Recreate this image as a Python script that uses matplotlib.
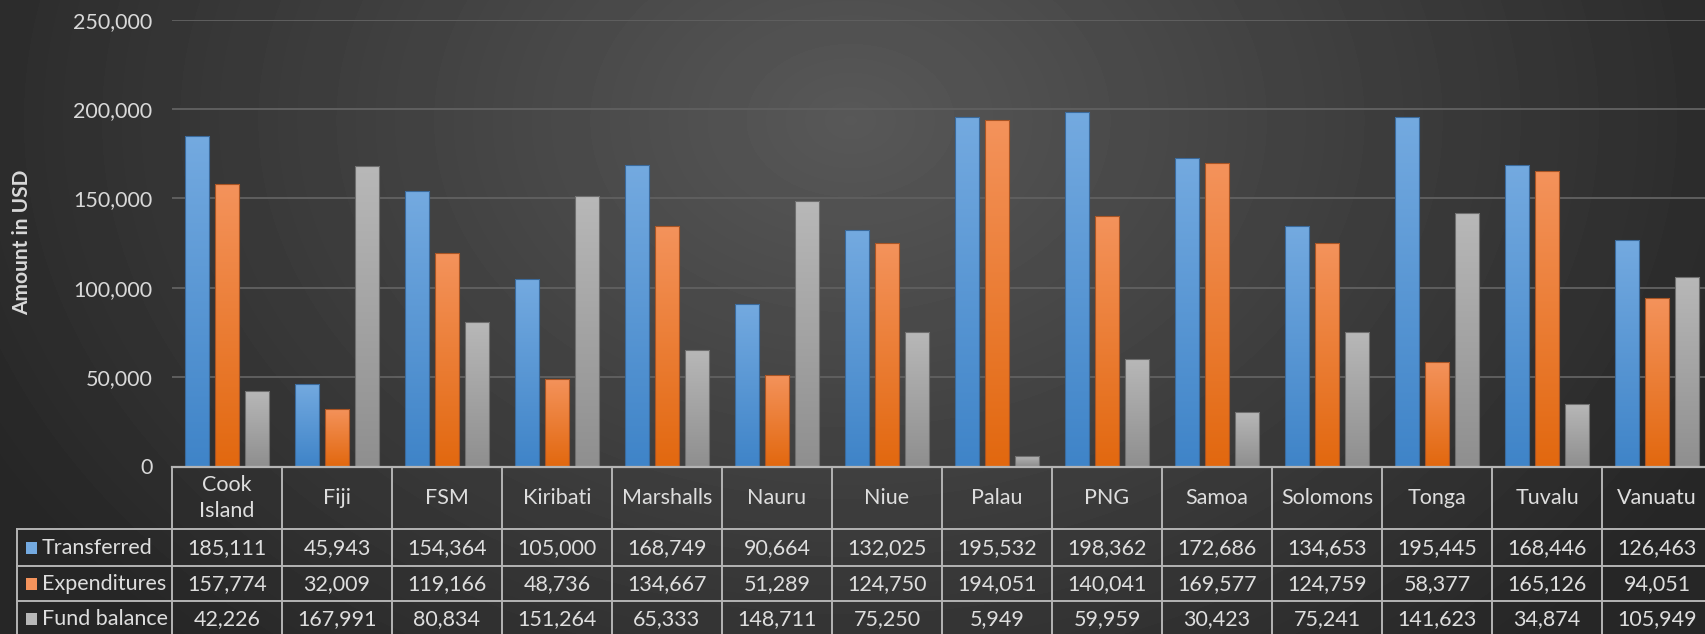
import matplotlib.pyplot as plt
import numpy as np
from matplotlib.colors import LinearSegmentedColormap
from matplotlib.patches import Rectangle
from matplotlib.transforms import blended_transform_factory

plt.rcParams['font.family'] = ['Lato', 'DejaVu Sans']

categories = ["Cook\nIsland", "Fiji", "FSM", "Kiribati", "Marshalls", "Nauru", "Niue",
              "Palau", "PNG", "Samoa", "Solomons", "Tonga", "Tuvalu", "Vanuatu"]
series_names = ["Transferred", "Expenditures", "Fund balance"]
transferred = [185111, 45943, 154364, 105000, 168749, 90664, 132025,
               195532, 198362, 172686, 134653, 195445, 168446, 126463]
expenditures = [157774, 32009, 119166, 48736, 134667, 51289, 124750,
                194051, 140041, 169577, 124759, 58377, 165126, 94051]
fund_balance = [42226, 167991, 80834, 151264, 65333, 148711, 75250,
                5949, 59959, 30423, 75241, 141623, 34874, 105949]
y_ticks = [0, 50000, 100000, 150000, 200000, 250000]

# (bottom colour, top colour, edge colour)
styles = [("#3f84c8", "#74aae0", "#3a6a9c"),
          ("#e2680f", "#f4935c", "#a85424"),
          ("#8f8f8f", "#b8b8b8", "#6e6e6e")]

W, H = 1705, 634
fig = plt.figure(figsize=(W / 100, H / 100), dpi=100)


def fx(px):
    return px / W


def fy(py):
    return 1 - py / H


# background: dark with a lighter patch near the top middle
bg = fig.add_axes([0, 0, 1, 1])
bg.axis('off')
yy, xx = np.mgrid[0:H, 0:W]
d = np.sqrt(((xx - 850) / 950) ** 2 + ((yy - 120) / 700) ** 2)
shade = np.clip(0.345 - 0.19 * d, 0.15, 0.35)
bg.imshow(shade, cmap='gray', vmin=0, vmax=1, aspect='auto', extent=[0, 1, 0, 1])
bg.set_xlim(0, 1)
bg.set_ylim(0, 1)

top_px, base_px = 19.6, 466.5
left_px, cat_px = 172, 110
ax = fig.add_axes([fx(left_px), fy(base_px), 14 * cat_px / W, (base_px - top_px) / H])
ax.set_facecolor('none')
ax.set_xlim(-0.5, 13.5)
ax.set_ylim(0, 250000)
for s in ax.spines.values():
    s.set_visible(False)

ax.set_yticks(y_ticks)
ax.set_yticklabels([f"{v:,}" for v in y_ticks])
ax.tick_params(axis='y', length=0, pad=14, labelsize=15.5, labelcolor='#d9d9d9')
ax.set_xticks([])
for v in y_ticks[1:]:
    ax.axhline(v, color='#5f5f5f', lw=1.4, zorder=1)

x = np.arange(len(categories))
width = 0.22
offsets = [-0.27, 0, 0.27]
grad = np.linspace(0, 1, 256).reshape(-1, 1)
for vals, off, (c_bot, c_top, c_edge) in zip([transferred, expenditures, fund_balance], offsets, styles):
    cmap = LinearSegmentedColormap.from_list("g", [c_bot, c_top])
    bars = ax.bar(x + off, vals, width, facecolor='none', edgecolor=c_edge, lw=0.8, zorder=3)
    for b in bars:
        x0, h = b.get_x(), b.get_height()
        im = ax.imshow(grad, cmap=cmap, origin='lower', aspect='auto',
                       extent=[x0, x0 + b.get_width(), 0, h], zorder=2.5)
        im.set_clip_path(b)
ax.set_xlim(-0.5, 13.5)
ax.set_ylim(0, 250000)

fig.text(fx(22), fy(242), "Amount in USD", rotation=90, ha='center', va='center',
         fontsize=15, fontweight='bold', color='#d9d9d9')

# data table under the axis
tr = blended_transform_factory(ax.transData, fig.transFigure)
line_c = '#b4b4b4'
label_left = -0.5 - (left_px - 17.4) / cat_px
row_lines = [529.3, 566, 601]
row_centers = [548, 584, 619]

ax.plot([-0.5, 13.5], [fy(base_px)] * 2, color=line_c, lw=1.6, transform=tr, clip_on=False, zorder=4)
for yl in row_lines:
    ax.plot([label_left, 13.5], [fy(yl)] * 2, color=line_c, lw=1.4, transform=tr, clip_on=False)
for k in range(15):
    ax.plot([k - 0.5] * 2, [fy(base_px), fy(650)], color=line_c, lw=1.4, transform=tr, clip_on=False)
ax.plot([label_left] * 2, [fy(row_lines[0]), fy(650)], color=line_c, lw=1.4, transform=tr, clip_on=False)

for i, c in enumerate(categories):
    ax.text(i, fy(498), c, ha='center', va='center', fontsize=15.5, color='#dedede',
            linespacing=1.35, transform=tr)

for r, (name, vals) in enumerate(zip(series_names, [transferred, expenditures, fund_balance])):
    yc = row_centers[r]
    fig.patches.append(Rectangle((fx(26), fy(yc + 6)), 11 / W, 12 / H, transform=fig.transFigure,
                                 facecolor=styles[r][1], edgecolor='none'))
    fig.text(fx(42), fy(yc), name, ha='left', va='center', fontsize=15.5, color='#dedede')
    for i, v in enumerate(vals):
        ax.text(i, fy(yc), f"{v:,}", ha='center', va='center', fontsize=15.5, color='#dedede',
                transform=tr)

fig.savefig('out.png', dpi=100)
